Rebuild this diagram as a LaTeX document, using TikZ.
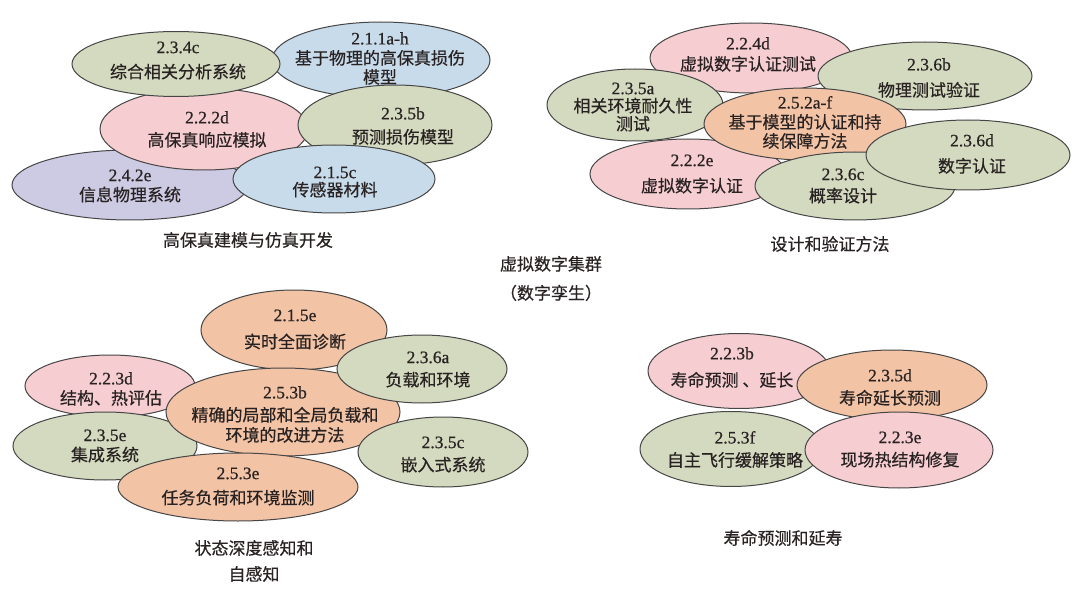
\documentclass[tikz,border=0pt]{standalone}
\usepackage{fontspec}
\usetikzlibrary{shapes.geometric}
\setmainfont{Liberation Serif}
\newfontfamily\cjk[FakeBold=0.4]{Noto Sans CJK SC}
\newfontfamily\numf[FakeBold=0.6]{Liberation Serif}
\newcommand{\nb}[1]{{\numf\fontsize{17.5}{20}\selectfont #1}}
\definecolor{cgreen}{RGB}{212,218,191}
\definecolor{cpink}{RGB}{246,205,209}
\definecolor{cblue}{RGB}{200,219,235}
\definecolor{cpurple}{RGB}{205,202,227}
\definecolor{corange}{RGB}{243,195,165}
\definecolor{cedge}{RGB}{70,70,70}
\definecolor{ctext}{RGB}{40,34,34}
\tikzset{
  ell/.style={ellipse, draw=cedge, line width=1pt, inner sep=0pt},
  gr/.style={ell, fill=cgreen},
  pk/.style={ell, fill=cpink},
  bl/.style={ell, fill=cblue},
  pu/.style={ell, fill=cpurple},
  og/.style={ell, fill=corange},
  txt/.style={align=center, text=ctext, inner sep=0pt, font=\cjk\fontsize{17}{20}\selectfont},
}
\begin{document}
\begin{tikzpicture}[x=1pt,y=-1pt]
\useasboundingbox[fill=white] (0,0) rectangle (1080,591);

% ---- quadrant 1: high-fidelity modelling ----
\node[pu, minimum width=236pt, minimum height=70pt] (e1) at (130,185) {};
\node[pk, minimum width=208pt, minimum height=82pt] (e2) at (204,129) {};
\node[bl, minimum width=218pt, minimum height=76pt] (e3) at (381,60) {};
\node[gr, minimum width=208pt, minimum height=65pt] (e4) at (176,64) {};
\node[gr, minimum width=194pt, minimum height=80pt] (e5) at (395,125) {};
\node[bl, minimum width=202pt, minimum height=68pt] (e6) at (334,179) {};
\node[txt] (te1) at (130,186) {\nb{2.4.2e}\\[0pt]信息物理系统};
\node[txt] (te2) at (207,129.5) {\nb{2.2.2d}\\[3pt]高保真响应模拟};
\node[txt] (te3) at (380,58.5) {\nb{2.1.1a-h}\\[0pt]基于物理的高保真损伤\\[-1pt]模型};
\node[txt] (te4) at (178,60.5) {\nb{2.3.4c}\\[5pt]综合相关分析系统};
\node[txt] (te5) at (403,126) {\nb{2.3.5b}\\[4pt]预测损伤模型};
\node[txt] (te6) at (335,182) {\nb{2.1.5c}\\[-2pt]传感器材料};
\node[txt] (l1) at (248,240) {高保真建模与仿真开发};

% ---- quadrant 2: design and verification ----
\node[pk, minimum width=202pt, minimum height=70pt] (f2) at (751,58) {};
\node[gr, minimum width=176pt, minimum height=72pt] (f1) at (635,105) {};
\node[gr, minimum width=214pt, minimum height=68pt] (f3) at (925,76) {};
\node[pk, minimum width=196pt, minimum height=70pt] (f4) at (688,174) {};
\node[og, minimum width=202pt, minimum height=72pt] (f5) at (805,124) {};
\node[gr, minimum width=200pt, minimum height=68pt] (f6) at (855,186) {};
\node[gr, minimum width=204pt, minimum height=70pt] (f7) at (968,155) {};
\node[txt] (tf1) at (633,107) {\nb{2.3.5a}\\[-2pt]相关环境耐久性\\[-2pt]测试};
\node[txt] (tf2) at (748,54.5) {\nb{2.2.4d}\\[1pt]虚拟数字认证测试};
\node[txt] (tf3) at (929,78) {\nb{2.3.6b}\\[6pt]物理测试验证};
\node[txt] (tf4) at (692,174) {\nb{2.2.2e}\\[6pt]虚拟数字认证};
\node[txt] (tf5) at (805,122.5) {\nb{2.5.2a-f}\\[0pt]基于模型的认证和持\\[-1pt]续保障方法};
\node[txt] (tf6) at (843,186) {\nb{2.3.6c}\\[2pt]概率设计};
\node[txt] (tf7) at (972,154) {\nb{2.3.6d}\\[6pt]数字认证};
\node[txt] (l2) at (830,244) {设计和验证方法};

% ---- centre ----
\node[txt] (c) at (551,278.5) {虚拟数字集群\\[9pt]（数字孪生）};

% ---- quadrant 3: state awareness ----
\node[pk, minimum width=170pt, minimum height=62pt] (g1) at (110,386) {};
\node[gr, minimum width=184pt, minimum height=68pt] (g2) at (105,446) {};
\node[og, minimum width=186pt, minimum height=80pt] (g3) at (294,330) {};
\node[og, minimum width=234pt, minimum height=88pt] (g4) at (283,412) {};
\node[gr, minimum width=170pt, minimum height=68pt] (g5) at (422,369) {};
\node[gr, minimum width=170pt, minimum height=70pt] (g6) at (443,452) {};
\node[og, minimum width=240pt, minimum height=68pt] (g7) at (238,487) {};
\node[txt] (tg1) at (111,389) {\nb{2.2.3d}\\[0pt]结构、热评估};
\node[txt] (tg2) at (105,446) {\nb{2.3.5e}\\[0pt]集成系统};
\node[txt] (tg3) at (295,329.5) {\nb{2.1.5e}\\[7pt]实时全面诊断};
\node[txt] (tg4) at (285,414.5) {\nb{2.5.3b}\\[3pt]精确的局部和全局负载和\\[0pt]环境的改进方法};
\node[txt] (tg5) at (428,369.5) {\nb{2.3.6a}\\[3pt]负载和环境};
\node[txt] (tg6) at (443,454.5) {\nb{2.3.5c}\\[3pt]嵌入式系统};
\node[txt] (tg7) at (238,486.5) {\nb{2.5.3e}\\[5pt]任务负荷和环境监测};
\node[txt] (l3) at (254,561) {状态深度感知和\\[6pt]自感知};

% ---- quadrant 4: life prediction ----
\node[pk, minimum width=182pt, minimum height=75pt] (h1) at (739,371) {};
\node[og, minimum width=190pt, minimum height=70pt] (h2) at (892,385) {};
\node[gr, minimum width=182pt, minimum height=75pt] (h3) at (731,449) {};
\node[pk, minimum width=188pt, minimum height=76pt] (h4) at (899,450) {};
\node[txt] (th1) at (732,367.5) {\nb{2.2.3b}\\[7pt]寿命预测 、延长};
\node[txt] (th2) at (890,387.5) {\nb{2.3.5d}\\[3pt]寿命延长预测};
\node[txt] (th3) at (735,449.5) {\nb{2.5.3f}\\[3pt]自主飞行缓解策略};
\node[txt] (th4) at (900,449.5) {\nb{2.2.3e}\\[3pt]现场热结构修复};
\node[txt] (l4) at (783,538) {寿命预测和延寿};
\end{tikzpicture}
\end{document}
